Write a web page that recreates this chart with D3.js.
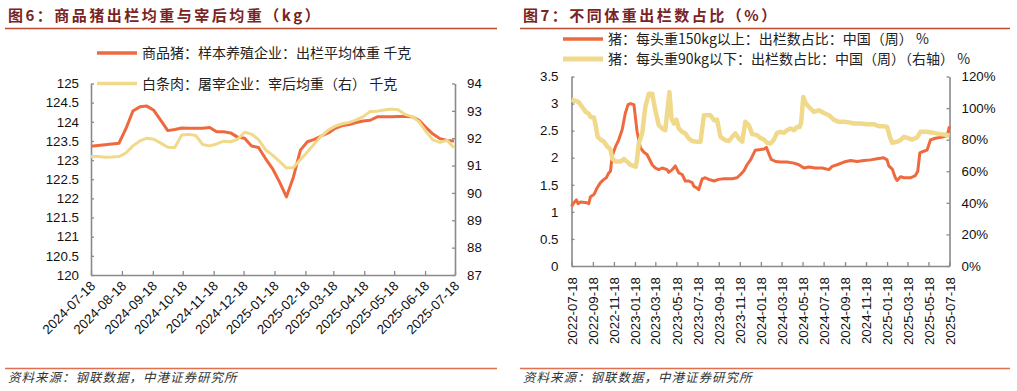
<!DOCTYPE html>
<html><head><meta charset="utf-8">
<script src="https://cdn.jsdelivr.net/npm/d3@7/dist/d3.min.js"></script>
<style>
html,body{margin:0;padding:0;background:#fff;}
svg{display:block;}
.tick text{font-family:"Liberation Sans",Arial,sans-serif;font-size:13.3px;fill:#111;}
.cjk{font-family:"Noto Sans CJK SC",sans-serif;}
</style></head>
<body>
<svg id="chart" width="1017" height="391"></svg>
<script>
// ---------- Figure 6 data (weekly) ----------
const leftDates = ["2024-07-18","2024-07-25","2024-08-01","2024-08-08","2024-08-15","2024-08-22","2024-08-29","2024-09-05","2024-09-12","2024-09-19","2024-09-26","2024-10-03","2024-10-10","2024-10-17","2024-10-24","2024-10-31","2024-11-07","2024-11-14","2024-11-21","2024-11-28","2024-12-05","2024-12-12","2024-12-19","2024-12-26","2025-01-02","2025-01-09","2025-01-16","2025-01-23","2025-01-30","2025-02-06","2025-02-13","2025-02-20","2025-02-27","2025-03-06","2025-03-13","2025-03-20","2025-03-27","2025-04-03","2025-04-10","2025-04-17","2025-04-24","2025-05-01","2025-05-08","2025-05-15","2025-05-22","2025-05-29","2025-06-05","2025-06-12","2025-06-19","2025-06-26","2025-07-03","2025-07-10","2025-07-17"];
const pigWeight = [123.36,123.38,123.40,123.42,123.44,123.82,124.28,124.39,124.41,124.30,124.04,123.77,123.80,123.84,123.83,123.83,123.83,123.85,123.74,123.74,123.71,123.60,123.57,123.37,123.33,123.04,122.78,122.43,122.04,122.56,123.26,123.48,123.54,123.63,123.71,123.83,123.90,123.93,123.98,124.02,124.04,124.13,124.13,124.13,124.14,124.14,124.13,124.04,123.85,123.68,123.56,123.51,123.50];
const carcassWeight = [91.33,91.33,91.30,91.31,91.33,91.46,91.72,91.90,92.00,91.96,91.82,91.67,91.66,92.12,92.14,92.10,91.77,91.72,91.79,91.89,91.87,91.96,92.22,92.15,91.95,91.58,91.38,91.15,90.91,90.93,91.22,91.50,91.80,92.08,92.30,92.44,92.53,92.58,92.67,92.79,92.98,92.99,93.03,93.07,93.04,92.87,92.79,92.60,92.24,91.93,91.85,91.92,91.65];
const leftXTicks = ["2024-07-18","2024-08-18","2024-09-18","2024-10-18","2024-11-18","2024-12-18","2025-01-18","2025-02-18","2025-03-18","2025-04-18","2025-05-18","2025-06-18","2025-07-18"];
const leftYTicks = [120,120.5,121,121.5,122,122.5,123,123.5,124,124.5,125];
const leftY2Ticks = [87,88,89,90,91,92,93,94];

// ---------- Figure 7 data ----------
const heavyDates = ["2022-07-18","2022-07-25","2022-08-01","2022-08-06","2022-08-13","2022-09-01","2022-09-06","2022-09-11","2022-09-21","2022-09-30","2022-10-10","2022-10-20","2022-10-27","2022-11-03","2022-11-08","2022-11-13","2022-11-23","2022-12-02","2022-12-12","2022-12-21","2022-12-29","2023-01-05","2023-01-15","2023-01-24","2023-02-03","2023-02-13","2023-02-22","2023-03-09","2023-03-18","2023-03-28","2023-04-07","2023-04-21","2023-04-26","2023-05-06","2023-05-15","2023-05-25","2023-06-04","2023-06-13","2023-06-23","2023-07-03","2023-07-08","2023-07-17","2023-07-22","2023-08-01","2023-08-10","2023-08-20","2023-09-04","2023-09-18","2023-10-03","2023-10-12","2023-10-27","2023-11-10","2023-11-20","2023-11-30","2023-12-09","2023-12-19","2024-01-02","2024-01-17","2024-01-27","2024-02-03","2024-02-13","2024-02-17","2024-03-01","2024-03-15","2024-04-03","2024-04-23","2024-05-07","2024-05-22","2024-06-05","2024-06-24","2024-07-14","2024-08-02","2024-08-12","2024-08-26","2024-09-15","2024-10-04","2024-10-23","2024-11-12","2024-12-01","2024-12-20","2025-01-08","2025-01-18","2025-01-23","2025-02-02","2025-02-11","2025-02-16","2025-02-26","2025-03-08","2025-03-27","2025-04-10","2025-04-17","2025-04-23","2025-05-04","2025-05-14","2025-05-24","2025-06-07","2025-06-27","2025-07-11","2025-07-18"];
const heavyShare = [1.10,1.17,1.22,1.15,1.18,1.17,1.15,1.28,1.32,1.44,1.54,1.60,1.63,1.72,1.75,2.03,2.21,2.33,2.52,2.82,2.98,3.00,2.98,2.49,2.18,2.10,2.06,1.87,1.81,1.78,1.81,1.78,1.73,1.78,1.85,1.72,1.69,1.57,1.57,1.54,1.47,1.44,1.41,1.61,1.63,1.60,1.57,1.60,1.61,1.61,1.61,1.63,1.69,1.76,1.87,1.96,2.14,2.15,2.16,2.19,2.03,1.97,1.93,1.92,1.92,1.90,1.87,1.81,1.83,1.81,1.81,1.78,1.84,1.87,1.92,1.95,1.93,1.95,1.96,1.98,2.00,1.96,1.85,1.79,1.63,1.58,1.65,1.63,1.63,1.67,1.75,2.09,2.12,2.14,2.33,2.36,2.38,2.41,2.58];
const lightDates = ["2022-07-18","2022-07-30","2022-08-08","2022-08-18","2022-08-28","2022-09-06","2022-09-11","2022-09-21","2022-09-26","2022-10-02","2022-10-10","2022-10-20","2022-10-29","2022-11-08","2022-11-13","2022-11-23","2022-12-07","2022-12-17","2022-12-26","2023-01-05","2023-01-20","2023-01-24","2023-01-29","2023-02-08","2023-02-17","2023-02-27","2023-03-09","2023-03-18","2023-03-28","2023-04-07","2023-04-16","2023-04-21","2023-04-28","2023-05-04","2023-05-11","2023-05-18","2023-05-25","2023-06-04","2023-06-13","2023-06-23","2023-07-03","2023-07-17","2023-07-27","2023-08-06","2023-08-25","2023-09-04","2023-09-13","2023-09-23","2023-10-07","2023-10-17","2023-10-27","2023-11-05","2023-11-15","2023-11-25","2023-12-04","2023-12-14","2023-12-24","2024-01-07","2024-01-17","2024-01-27","2024-02-05","2024-02-15","2024-02-24","2024-03-05","2024-03-15","2024-03-25","2024-04-03","2024-04-13","2024-04-23","2024-05-02","2024-05-10","2024-05-14","2024-05-20","2024-05-27","2024-06-05","2024-06-20","2024-07-04","2024-07-19","2024-08-02","2024-08-16","2024-08-31","2024-09-15","2024-10-04","2024-10-13","2024-11-02","2024-11-21","2024-12-10","2024-12-25","2025-01-08","2025-01-18","2025-01-26","2025-02-02","2025-02-16","2025-02-26","2025-03-08","2025-03-22","2025-04-01","2025-04-15","2025-04-25","2025-05-14","2025-06-02","2025-06-22","2025-07-11","2025-07-18"];
const lightShare = [105.3,104.5,103.8,100.7,97.6,96.5,94.4,94.0,89.2,81.8,80.1,78.7,75.9,73.8,68.2,66.1,66.1,67.8,66.1,64.0,62.9,67.1,77.6,83.9,100.7,109.1,109.1,98.6,89.2,87.1,86.0,96.5,110.1,93.4,90.2,92.7,87.1,85.0,83.9,80.8,79.1,78.7,78.7,95.5,95.5,92.3,92.7,81.8,79.7,79.1,81.8,83.9,80.8,78.7,91.3,89.2,83.5,82.9,81.0,80.1,78.0,77.6,79.7,84.3,85.0,84.3,86.0,87.1,86.0,88.1,88.1,91.3,107.0,103.2,100.7,97.6,98.6,96.9,95.5,92.7,91.3,91.3,90.8,90.2,90.2,89.8,89.8,88.5,88.5,88.1,81.8,78.0,78.7,79.7,81.8,80.8,80.1,81.4,85.0,85.0,84.3,83.5,82.9,82.5];
const rightXTicks = ["2022-07-18","2022-09-18","2022-11-18","2023-01-18","2023-03-18","2023-05-18","2023-07-18","2023-09-18","2023-11-18","2024-01-18","2024-03-18","2024-05-18","2024-07-18","2024-09-18","2024-11-18","2025-01-18","2025-03-18","2025-05-18","2025-07-18"];
const rightYTicks = [0,0.5,1,1.5,2,2.5,3,3.5];
const rightY2Ticks = [0,20,40,60,80,100,120];

// text
const title6 = "图6：商品猪出栏均重与宰后均重（kg）";
const title7 = "图7：不同体重出栏数占比（%）";
const legend6 = ["商品猪：样本养殖企业：出栏平均体重 千克","白条肉：屠宰企业：宰后均重（右） 千克"];
const legend7 = ["猪：每头重150kg以上：出栏数占比：中国（周） %","猪：每头重90kg以下：出栏数占比：中国（周）（右轴） %"];
const sourceText = "资料来源：钢联数据，中港证券研究所";

const ORANGE = "#ee6a3e", YELLOW = "#f0d98a", AXIS = "#8a8a8a";
const parse = d3.timeParse("%Y-%m-%d");
const svg = d3.select("#chart");
svg.append("rect").attr("width",1017).attr("height",391).attr("fill","#fff");

function frame(x0, x1, title){
  svg.append("text").attr("class","cjk").attr("x",x0+3).attr("y",21)
    .attr("font-size",15).attr("font-weight",700).attr("letter-spacing","2.5px")
    .attr("fill","#7a2323").text(title);
  svg.append("line").attr("x1",x0).attr("x2",x1).attr("y1",28.5).attr("y2",28.5)
    .attr("stroke","#bf4a2e").attr("stroke-width",1.3);
  svg.append("line").attr("x1",x0).attr("x2",x1).attr("y1",368.5).attr("y2",368.5)
    .attr("stroke","#e0704f").attr("stroke-width",1.3);
  svg.append("text").attr("class","cjk").attr("x",x0+3).attr("y",382)
    .attr("font-size",12.5).attr("font-style","italic").attr("letter-spacing","1px")
    .attr("fill","#333").text(sourceText);
}
frame(5,497,title6);
frame(520,1010,title7);

function styleAxis(g){
  g.select(".domain").attr("stroke",AXIS).attr("stroke-width",1.6);
  g.selectAll(".tick line").attr("stroke",AXIS).attr("stroke-width",1.3);
}

// ---------- Figure 6 ----------
{
  const x = d3.scaleTime().domain([parse(leftXTicks[0]), parse(leftXTicks[leftXTicks.length-1])]).range([91,455]);
  const y = d3.scaleLinear().domain([120,125]).range([275,83.5]);
  const y2 = d3.scaleLinear().domain([87,94]).range([275,83.5]);
  const gx = svg.append("g").attr("transform","translate(0,275)")
    .call(d3.axisBottom(x).tickValues(leftXTicks.map(parse)).tickFormat(d3.timeFormat("%Y-%m-%d")).tickSize(-4).tickSizeOuter(0));
  gx.selectAll("text").attr("x",-5).attr("y",7).attr("dy","0.35em")
    .attr("transform","rotate(-45)").style("text-anchor","end");
  styleAxis(gx);
  const gy = svg.append("g").attr("transform","translate(91,0)")
    .call(d3.axisLeft(y).tickValues(leftYTicks).tickFormat(d=>String(d)).tickSize(-3).tickSizeOuter(0).tickPadding(12));
  styleAxis(gy);
  const gy2 = svg.append("g").attr("transform","translate(455,0)")
    .call(d3.axisRight(y2).tickValues(leftY2Ticks).tickFormat(d=>String(d)).tickSize(-3).tickSizeOuter(0).tickPadding(12));
  styleAxis(gy2);
  const dates = leftDates.map(parse);
  svg.append("path").datum(pigWeight).attr("fill","none").attr("stroke",ORANGE).attr("stroke-width",3)
    .attr("stroke-linejoin","round")
    .attr("d", d3.line().x((d,i)=>x(dates[i])).y(d=>y(d)));
  svg.append("path").datum(carcassWeight).attr("fill","none").attr("stroke",YELLOW).attr("stroke-width",3)
    .attr("stroke-linejoin","round")
    .attr("d", d3.line().x((d,i)=>x(dates[i])).y(d=>y2(d)));
  // legend
  const ly = [53, 83.5], lc = [ORANGE, YELLOW];
  legend6.forEach((t,i)=>{
    svg.append("line").attr("x1",97).attr("x2",137).attr("y1",ly[i]).attr("y2",ly[i])
      .attr("stroke",lc[i]).attr("stroke-width",3.5);
    svg.append("text").attr("class","cjk").attr("x",142).attr("y",ly[i]).attr("dy","0.36em")
      .attr("font-size",14).attr("fill","#222").text(t);
  });
}

// ---------- Figure 7 ----------
{
  const x = d3.scaleTime().domain([parse(rightXTicks[0]), parse(rightXTicks[rightXTicks.length-1])]).range([571.5,949.5]);
  const y = d3.scaleLinear().domain([0,3.5]).range([266,76.5]);
  const y2 = d3.scaleLinear().domain([0,120]).range([266,76.5]);
  const gx = svg.append("g").attr("transform","translate(0,266)")
    .call(d3.axisBottom(x).tickValues(rightXTicks.map(parse)).tickFormat(d3.timeFormat("%Y-%m-%d")).tickSize(-4).tickSizeOuter(0));
  gx.selectAll("text").attr("x",-11).attr("y",0).attr("dy","0.35em")
    .attr("transform","rotate(-90)").style("text-anchor","end");
  styleAxis(gx);
  const gy = svg.append("g").attr("transform","translate(571.5,0)")
    .call(d3.axisLeft(y).tickValues(rightYTicks).tickFormat(d=>String(d)).tickSize(-3).tickSizeOuter(0).tickPadding(13));
  styleAxis(gy);
  const gy2 = svg.append("g").attr("transform","translate(949.5,0)")
    .call(d3.axisRight(y2).tickValues(rightY2Ticks).tickFormat(d=>d+"%").tickSize(-3).tickSizeOuter(0).tickPadding(12));
  styleAxis(gy2);
  const hd = heavyDates.map(parse), ld = lightDates.map(parse);
  svg.append("path").datum(heavyShare).attr("fill","none").attr("stroke",ORANGE).attr("stroke-width",3)
    .attr("stroke-linejoin","round")
    .attr("d", d3.line().x((d,i)=>x(hd[i])).y(d=>y(d)));
  svg.append("path").datum(lightShare).attr("fill","none").attr("stroke",YELLOW).attr("stroke-width",4.5)
    .attr("stroke-linejoin","round")
    .attr("d", d3.line().x((d,i)=>x(ld[i])).y(d=>y2(d)));
  const ly = [39, 59], lc = [ORANGE, YELLOW], lw=[3.5,5];
  legend7.forEach((t,i)=>{
    svg.append("line").attr("x1",563).attr("x2",603).attr("y1",ly[i]).attr("y2",ly[i])
      .attr("stroke",lc[i]).attr("stroke-width",lw[i]);
    svg.append("text").attr("class","cjk").attr("x",608).attr("y",ly[i]).attr("dy","0.36em")
      .attr("font-size",14).attr("fill","#222").text(t);
  });
}
</script>
</body></html>
